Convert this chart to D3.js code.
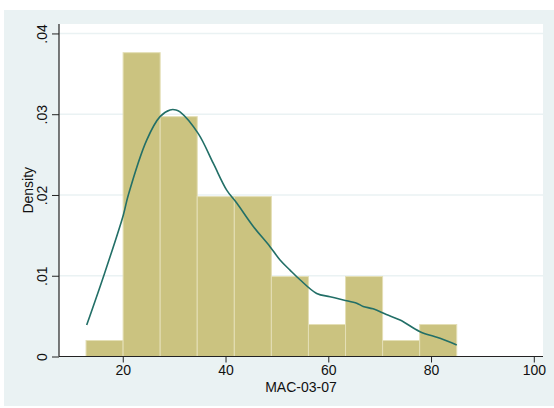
<!DOCTYPE html>
<html><head><meta charset="utf-8">
<script src="https://cdn.jsdelivr.net/npm/d3@7"></script>
<style>
html,body{margin:0;padding:0;background:#fff;}
svg{display:block;font-family:"Liberation Sans",Arial,sans-serif;}
</style></head>
<body>
<svg id="chart" width="554" height="408"></svg>
<script>
// Histogram data
const binStart = 12.85;
const binWidth = 7.215;
const counts = [1, 19, 15, 10, 10, 5, 2, 5, 1, 2];

// Kernel density curve (x, density)
const kdeX = [12.98, 16.35, 20.1, 21.08, 24.66, 27.25, 29.2, 30.37, 31.14, 34.7, 37.63, 40.23, 42.18, 45.41, 48.66, 50.61, 52.55, 54.5, 57.75, 60.34, 62.93, 65.54, 66.8, 68.7, 71.3, 73.97, 77.86, 81.75, 85.0];
const kdeY = [0.0039, 0.0101, 0.0175, 0.0200, 0.0268, 0.0297, 0.03053, 0.03053, 0.0303, 0.0276, 0.0239, 0.0206, 0.0190, 0.0161, 0.0136, 0.01195, 0.0107, 0.0095, 0.0078, 0.0074, 0.0070, 0.0066, 0.0062, 0.0059, 0.0052, 0.00452, 0.00307, 0.00225, 0.00142];

const xTicks = [20, 40, 60, 80, 100];
const yTicks = [0, 0.01, 0.02, 0.03, 0.04];
const yTickLabels = ["0", ".01", ".02", ".03", ".04"];
const xTitle = "MAC-03-07";
const yTitle = "Density";

(function () {
const svg = d3.select("#chart");
const W = 554, H = 408;
const pL = 59, pR = 543, pT = 24, pB = 356.5;

// background panel
svg.append("rect").attr("x", 4).attr("y", 10).attr("width", W - 4).attr("height", H - 12).attr("fill", "#eaf2f3");
svg.append("rect").attr("x", pL).attr("y", pT).attr("width", pR - pL).attr("height", pB - pT).attr("fill", "#ffffff");

const x = d3.scaleLinear().domain([7.59, 101.79]).range([pL, pR]);
const y = d3.scaleLinear().domain([0, 0.04117]).range([pB, pT]);

// grid lines
svg.append("g").selectAll("line").data(yTicks.filter(d => d > 0)).join("line")
  .attr("x1", pL).attr("x2", pR)
  .attr("y1", d => y(d)).attr("y2", d => y(d))
  .attr("stroke", "#eaf2f3").attr("stroke-width", 1.5);

// bars
const total = d3.sum(counts);
const bars = counts.map((c, i) => ({x0: binStart + i * binWidth, x1: binStart + (i + 1) * binWidth, d: c / (total * binWidth)}));
svg.append("g").selectAll("rect").data(bars).join("rect")
  .attr("x", d => x(d.x0)).attr("width", d => x(d.x1) - x(d.x0))
  .attr("y", d => y(d.d)).attr("height", d => y(0) - y(d.d))
  .attr("fill", "#cbc380").attr("stroke", "#e4dfb6").attr("stroke-width", 1);

// density curve
const pts = kdeX.map((v, i) => [v, kdeY[i]]);
svg.append("path").datum(pts)
  .attr("d", d3.line().x(d => x(d[0])).y(d => y(d[1])).curve(d3.curveCatmullRom.alpha(0.5)))
  .attr("fill", "none").attr("stroke", "#226f67").attr("stroke-width", 1.6);

// axes
const xAxis = d3.axisBottom(x).tickValues(xTicks).tickSize(6).tickPadding(3).tickFormat(d3.format("d"));
const gx = svg.append("g").attr("transform", `translate(0,${pB})`).call(xAxis);
gx.select(".domain").remove();
gx.selectAll("line").attr("stroke", "#222");
gx.selectAll("text").attr("font-size", 14).attr("fill", "#111").attr("font-family", "Liberation Sans, Arial, sans-serif");

const yAxis = d3.axisLeft(y).tickValues(yTicks).tickSize(7).tickFormat((d, i) => yTickLabels[i]);
const gy = svg.append("g").attr("transform", `translate(${pL},0)`).call(yAxis);
gy.select(".domain").remove();
gy.selectAll("line").attr("stroke", "#222");
gy.selectAll("text")
  .attr("font-size", 14).attr("fill", "#111").attr("font-family", "Liberation Sans, Arial, sans-serif")
  .attr("x", null).attr("dy", null)
  .attr("text-anchor", "middle")
  .attr("transform", "translate(-12.5,0) rotate(-90)");

svg.append("line").attr("x1", pL).attr("x2", pR).attr("y1", pB).attr("y2", pB).attr("stroke", "#222").attr("stroke-width", 1.2);
svg.append("line").attr("x1", pL).attr("x2", pL).attr("y1", pT).attr("y2", pB).attr("stroke", "#222").attr("stroke-width", 1.2);

svg.append("text").attr("x", (pL + pR) / 2).attr("y", 392).attr("text-anchor", "middle")
  .attr("font-size", 14).attr("fill", "#111").text(xTitle);
svg.append("text").attr("transform", `translate(33,${(pT + pB) / 2}) rotate(-90)`).attr("text-anchor", "middle")
  .attr("font-size", 14).attr("fill", "#111").text(yTitle);
})();
</script>
</body></html>
